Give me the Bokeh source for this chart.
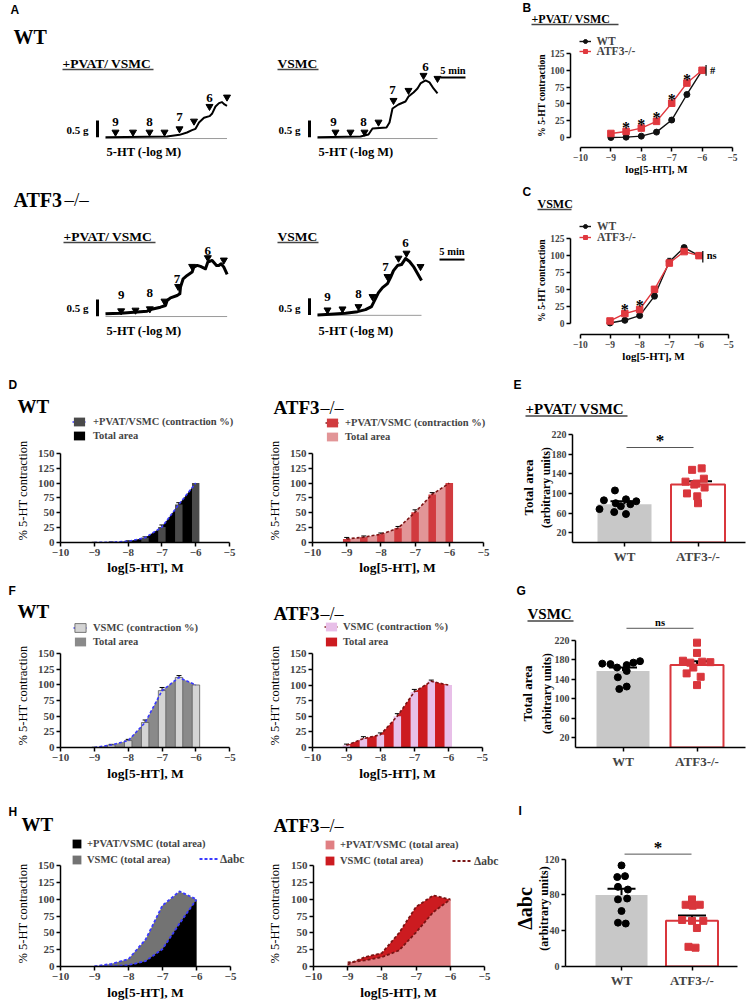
import math
from bokeh.plotting import figure
from bokeh.models import (Range1d, Legend, LegendItem, Whisker, TeeHead,
                          ColumnDataSource, FixedTicker, GridBox)
from bokeh.layouts import row, column
from bokeh.embed import file_html
from bokeh.resources import INLINE
from bokeh.core.properties import value

SERIF = "Liberation Serif"
SANS = "Liberation Sans"

# ---------------- dose-response data (% 5-HT contraction) ----------------
log_conc = [-9, -8.5, -8, -7.5, -7, -6.5, -6]
pvat_wt = [0, 0.5, 2, 8, 26, 64, 100]
pvat_wt_sem = [0.3, 0.3, 0.8, 1.5, 3.5, 3, 0]
pvat_ko = [6, 9, 14, 24, 51, 81, 100]
pvat_ko_sem = [2.5, 2, 2, 3, 4, 3, 0]
vsmc_wt = [0, 4, 11, 40, 91, 112, 100]
vsmc_wt_sem = [0.3, 1, 2, 4, 5, 3, 0]
vsmc_ko = [3, 14, 20, 50, 89, 106, 100]
vsmc_ko_sem = [2, 3, 3, 4, 4, 2, 0]
stars_b = [-8.5, -8, -7.5, -7, -6.5]
stars_c = [-8.5, -8]
x_ticks = [-10, -9, -8, -7, -6, -5]
y_ticks_pct = [0, 25, 50, 75, 100, 125, 150]
y_ticks_bc = [0, 25, 50, 75, 100, 125]

# ---------------- bar-chart data ----------------
groups = ["WT", "ATF3-/-"]
e_wt = [106, 88, 86, 84, 80, 78, 74, 68, 62, 58]
e_wt_jit = [-0.13, 0.02, -0.28, 0.16, -0.12, 0.08, -0.05, -0.34, -0.14, 0.02]
e_ko = [151, 148, 130, 124, 120, 118, 112, 100, 94, 80]
e_ko_jit = [0.05, -0.08, 0.08, -0.17, -0.02, -0.05, 0.09, -0.15, -0.01, 0.0]
e_mean = [78, 118]
e_sem = [6, 7]
g_wt = [177, 174, 172, 171, 169, 164, 157, 144, 125, 120]
g_wt_jit = [0.23, 0.14, -0.28, -0.17, 0.05, -0.08, 0.05, -0.07, 0.05, -0.05]
g_ko = [215, 194, 178, 176, 175, 174, 164, 152, 145, 128]
g_ko_jit = [0.0, 0.0, -0.19, 0.07, 0.18, -0.09, -0.05, -0.14, 0.05, 0.0]
g_mean = [157, 169]
g_sem = [7, 8]
i_wt = [113, 101, 100, 89, 86, 76, 75, 62, 49, 48]
i_wt_jit = [0.0, 0.05, -0.06, -0.05, 0.09, 0.08, -0.05, 0.0, -0.05, 0.06]
i_ko = [75, 69, 69, 68, 52, 51, 51, 43, 22, 21]
i_ko_jit = [0.0, -0.09, 0.11, 0.01, -0.14, 0.16, 0.0, 0.07, -0.05, 0.05]
i_mean = [80, 51]
i_sem = [7, 6]

# ---------------- panel A isometric traces (time min, tension g) ----------------
wt_pvat_t = [0, 12.3, 14.8, 16.3, 17.3, 18.0, 18.7, 19.7, 20.8, 21.3, 22.0, 22.7, 23.3, 23.8, 24.3]
wt_pvat_g = [0, 0.02, 0.07, 0.14, 0.21, 0.25, 0.44, 0.58, 0.63, 0.70, 0.92, 1.02, 1.05, 0.98, 0.94]
wt_pvat_arr_t = [2.0, 5.5, 8.8, 11.8, 14.8, 17.7, 20.8, 24.3]
wt_pvat_arr_g = [0.15, 0.15, 0.15, 0.15, 0.25, 0.48, 0.92, 1.2]
wt_pvat_dose_t = [2.0, 8.8, 14.8, 20.8]
wt_pvat_dose_g = [0.45, 0.45, 0.6, 1.17]

wt_vsmc_t = [0, 8.6, 10.2, 11.0, 13.8, 14.4, 15.0, 16.2, 17.6, 18.2, 19.2, 20.0, 20.6, 21.6, 22.4, 23.2, 24.0]
wt_vsmc_g = [0, 0.02, 0.08, 0.26, 0.29, 0.44, 0.86, 0.98, 1.07, 1.22, 1.34, 1.46, 1.61, 1.70, 1.64, 1.46, 1.31]
wt_vsmc_arr_t = [3.6, 6.6, 9.4, 12.2, 15.2, 18.2, 21.2, 24.0]
wt_vsmc_arr_g = [0.15, 0.15, 0.15, 0.45, 1.1, 1.4, 1.85, 1.76]
wt_vsmc_dose_t = [3.2, 9.2, 15.0, 21.6]
wt_vsmc_dose_g = [0.45, 0.45, 1.4, 2.1]

ko_pvat_t = [0, 3.0, 5.67, 8.33, 9.0, 11.0, 12.0, 12.33, 13.0, 14.33, 14.87, 15.0, 15.53, 16.33,
             17.33, 17.67, 18.33, 19.0, 20.0, 20.47, 21.33, 22.2, 22.67, 23.13, 23.67, 24.33]
ko_pvat_g = [0.07, 0.09, 0.12, 0.15, 0.20, 0.27, 0.32, 0.47, 0.55, 0.62, 0.67, 0.87, 1.12, 1.22,
             1.32, 1.47, 1.52, 1.49, 1.42, 1.62, 1.67, 1.52, 1.52, 1.57, 1.47, 1.25]
ko_pvat_arr_t = [3.13, 6.0, 8.87, 11.8, 14.53, 17.33, 20.47, 23.67]
ko_pvat_arr_g = [0.16, 0.18, 0.22, 0.45, 0.89, 1.49, 1.75, 1.68]
ko_pvat_dose_t = [3.13, 8.87, 14.3, 20.47]
ko_pvat_dose_g = [0.62, 0.69, 1.12, 1.95]

ko_vsmc_t = [0, 2.6, 5.6, 8.0, 9.6, 10.8, 11.4, 12.2, 13.0, 14.0, 14.6, 15.2, 16.0, 16.8, 17.6, 18.4, 19.2, 20.0, 20.8]
ko_vsmc_g = [0, 0.02, 0.05, 0.10, 0.16, 0.25, 0.43, 0.67, 0.82, 0.94, 1.12, 1.33, 1.48, 1.51, 1.69, 1.60, 1.45, 1.24, 1.03]
ko_vsmc_arr_t = [2.0, 5.0, 8.2, 11.0, 14.0, 16.2, 17.8, 20.6]
ko_vsmc_arr_g = [0.15, 0.18, 0.25, 0.55, 1.15, 1.7, 1.85, 1.45]
ko_vsmc_dose_t = [2.0, 8.2, 13.6, 17.6]
ko_vsmc_dose_g = [0.55, 0.62, 1.45, 2.15]
dose_labels = ["9", "8", "7", "6"]

# ---------------- colours ----------------
BLUE = "#3a3aff"
DKRED = "#7a1414"
RED = "#d9363c"
REDL = "#e0383e"

# =====================================================================
# text overlay (whole page) : titles, letters, axis titles
# =====================================================================
T = figure(width=747, height=1000, x_range=Range1d(0, 747), y_range=Range1d(1000, 0),
           x_axis_location=None, y_axis_location=None, min_border=0, title=None,
           toolbar_location=None, output_backend="svg",
           background_fill_color=None, border_fill_color=None)
T.grid.visible = False
T.outline_line_color = None

def lab(X, Y, text, size, style="bold", font=SERIF, align="left", angle=0.0):
    T.text(x=[X], y=[Y], text=[text], text_font=value(font), text_font_size=value(f"{size}px"),
           text_font_style=style, text_align=align, text_baseline="middle", angle=angle,
           text_color="black")

def uline(X1, X2, Y):
    T.segment(x0=[X1], y0=[Y], x1=[X2], y1=[Y], line_color="#444444", line_width=1.3)

# =====================================================================
# Panel A : one canvas, traces through their own (min, g) ranges
# =====================================================================
AW, AH = 515, 370
A = figure(width=AW, height=AH, x_range=Range1d(0, AW), y_range=Range1d(AH, 0),
           x_axis_location=None, y_axis_location=None, min_border=0, title=None,
           toolbar_location=None, output_backend="svg")
A.grid.visible = False
A.outline_line_color = None
PXM, PXG = 5.0, 33.4   # px per minute, px per gram

traces = [
    ("wp", 105, 136.7, wt_pvat_t, wt_pvat_g, wt_pvat_arr_t, wt_pvat_arr_g, wt_pvat_dose_t, wt_pvat_dose_g, 2.0, -0.04),
    ("wv", 317, 136.7, wt_vsmc_t, wt_vsmc_g, wt_vsmc_arr_t, wt_vsmc_arr_g, wt_vsmc_dose_t, wt_vsmc_dose_g, 2.0, -0.04),
    ("kp", 105, 315.7, ko_pvat_t, ko_pvat_g, ko_pvat_arr_t, ko_pvat_arr_g, ko_pvat_dose_t, ko_pvat_dose_g, 3.0, -0.01),
    ("kv", 317, 314.5, ko_vsmc_t, ko_vsmc_g, ko_vsmc_arr_t, ko_vsmc_arr_g, ko_vsmc_dose_t, ko_vsmc_dose_g, 3.0, -0.01),
]
exr, eyr = {}, {}
for key, ox, oy, *_ in traces:
    exr[key] = Range1d(-ox / PXM, (AW - ox) / PXM)
    eyr[key] = Range1d((oy - AH) / PXG, oy / PXG)
A.extra_x_ranges = exr
A.extra_y_ranges = eyr

for key, ox, oy, tt, gg, at, ag, dt, dg, lw, base in traces:
    kw = dict(x_range_name=key, y_range_name=key)
    A.line([0, tt[-1]], [base, base], line_color="#9a9a9a", line_width=1, **kw)
    A.line(tt, gg, line_color="black", line_width=lw, line_join="round", **kw)
    A.scatter(at, ag, marker="inverted_triangle", size=7, color="black", **kw)
    A.text(x=dt, y=dg, text=dose_labels, text_font=value(SERIF), text_font_size=value("13px"),
           text_font_style="bold", text_align="center", text_baseline="middle", **kw)
    A.segment(x0=[-1.6], y0=[0], x1=[-1.6], y1=[0.5], line_width=3, line_color="black", **kw)

A.segment(x0=[24.6], y0=[1.79], x1=[29.6], y1=[1.79], line_width=2, line_color="black",
          x_range_name="wv", y_range_name="wv")
A.text(x=[27.1], y=[2.0], text=["5 min"], text_font=value(SERIF), text_font_size=value("10.5px"),
       text_font_style="bold", text_align="center", text_baseline="middle",
       x_range_name="wv", y_range_name="wv")
A.segment(x0=[24.4], y0=[1.66], x1=[29.4], y1=[1.66], line_width=2, line_color="black",
          x_range_name="kv", y_range_name="kv")
A.text(x=[26.9], y=[1.9], text=["5 min"], text_font=value(SERIF), text_font_size=value("10.5px"),
       text_font_style="bold", text_align="center", text_baseline="middle",
       x_range_name="kv", y_range_name="kv")

lab(10, 9, "A", 12, font=SANS)
lab(13, 36, "WT", 20)
lab(13, 199, "ATF3", 20)
lab(64, 199, "\u2013/\u2013", 19, style="normal")
for (x, y, s, ul) in [(62, 63, "+PVAT/ VSMC", 91), (277, 63, "VSMC", 41),
                      (63, 236, "+PVAT/ VSMC", 92), (277, 236, "VSMC", 41)]:
    lab(x, y, s, 13.5)
    uline(x, x + ul, y + 6)
for (x, y) in [(88, 129), (300, 129), (88, 307), (300, 307)]:
    lab(x, y, "0.5 g", 11, align="right")
for (x, y) in [(106, 151), (318, 151), (106, 330), (318, 330)]:
    lab(x, y, "5-HT (-log M)", 12.5)

# =====================================================================
# helpers for charts
# =====================================================================
def make_panel(x0, y0, w, h, fl, ft, fr, fb, xcal, ycal):
    a, pa, b, pb = xcal
    kx = (pb - pa) / (b - a)
    xs, xe = a - (pa - fl) / kx, a + (fr - pa) / kx
    a2, pa2, b2, pb2 = ycal
    ky = (pa2 - pb2) / (b2 - a2)
    ys, ye = a2 - (fb - pa2) / ky, a2 + (pa2 - ft) / ky
    p = figure(width=w, height=h, x_range=Range1d(xs, xe), y_range=Range1d(ys, ye),
               min_border_left=fl - x0, min_border_right=x0 + w - fr,
               min_border_top=ft - y0, min_border_bottom=y0 + h - fb,
               title=None, toolbar_location=None, output_backend="svg")
    p.grid.visible = False
    p.outline_line_color = None
    return dict(p=p, fl=fl, fb=fb)

def style_axes(p, xticks, yticks, xb, yb, fs="11px", xfs=None):
    p.xaxis.ticker = FixedTicker(ticks=xticks)
    p.yaxis.ticker = FixedTicker(ticks=yticks)
    if xb is not None:
        p.xaxis.bounds = xb
    p.yaxis.bounds = yb
    for ax in list(p.xaxis) + list(p.yaxis):
        ax.axis_line_width = 1.5
        ax.major_tick_line_width = 1.5
        ax.major_tick_out = 4
        ax.major_tick_in = 0
        ax.minor_tick_line_color = None
        ax.major_label_text_font = SERIF
        ax.major_label_text_font_style = "bold"
        ax.major_label_text_font_size = fs
        ax.major_label_standoff = 2
    if xfs:
        p.xaxis.major_label_text_font_size = xfs

def leg(P, renderers, label, gx, gy, gw, gh, lx, fs="10.5px"):
    L = Legend(items=[LegendItem(label=label, renderers=renderers)],
               location=(gx - P["fl"], P["fb"] - gy - gh / 2.0), orientation="vertical",
               padding=0, margin=0, spacing=0, glyph_width=gw, glyph_height=gh,
               label_height=gh, label_standoff=int(round(lx - gx - gw)),
               label_text_font=SERIF, label_text_font_style="bold", label_text_font_size=fs,
               border_line_color=None, background_fill_alpha=0)
    P["p"].add_layout(L)

def whisk(p, xs, ys, es, width=1.0, head=5, color="black"):
    keep = [i for i in range(len(xs)) if es[i] > 0]
    src = ColumnDataSource(dict(x=[xs[i] for i in keep],
                                lo=[ys[i] - es[i] for i in keep],
                                hi=[ys[i] + es[i] for i in keep]))
    p.add_layout(Whisker(source=src, base="x", lower="lo", upper="hi", line_color=color,
                         line_width=width,
                         upper_head=TeeHead(size=head, line_width=width, line_color=color),
                         lower_head=TeeHead(size=head, line_width=width, line_color=color)))

# =====================================================================
# B and C : dose-response curves
# =====================================================================
def dose_panel(P, wt, wts, ko, kos, stars, sig, sig_x, sig_lo, sig_hi, legy, glx, lblx, letter, ttl, ttl_xy, ul_w, ylab_y, xlab_xy):
    p = P["p"]
    lw_ = p.line(log_conc, wt, line_color="#111111", line_width=1.4)
    sw_ = p.scatter(log_conc, wt, marker="circle", size=6, color="#111111")
    lk_ = p.line(log_conc, ko, line_color=REDL, line_width=1.4)
    sk_ = p.scatter(log_conc, ko, marker="square", size=6.5, color=REDL)
    whisk(p, log_conc, wt, wts, head=4, color="#111111")
    whisk(p, log_conc, ko, kos, head=4, color=REDL)
    sy = [ko[log_conc.index(s)] + 5.5 for s in stars]
    p.text(x=stars, y=sy, text=["*"] * len(stars), text_font=value(SERIF),
           text_font_size=value("16px"), text_font_style="bold", text_align="center",
           text_baseline="middle")
    p.segment(x0=[sig_x], y0=[sig_lo], x1=[sig_x], y1=[sig_hi], line_color="black", line_width=1.2)
    p.text(x=[sig_x + 0.13], y=[100], text=[sig], text_font=value(SERIF),
           text_font_size=value("10.5px"), text_font_style="bold", text_align="left",
           text_baseline="middle")
    style_axes(p, x_ticks, y_ticks_bc, (-10, -5), (0, 125), fs="9.5px")
    leg(P, [lw_, sw_], "WT", glx, legy[0], 12, 10, lblx, fs="11.5px")
    leg(P, [lk_, sk_], "ATF3-/-", glx, legy[1], 12, 10, lblx, fs="11.5px")
    lab(522, letter[1], letter[0], 12, font=SANS)
    lab(ttl_xy[0], ttl_xy[1], ttl, 12)
    uline(ttl_xy[0], ttl_xy[0] + ul_w, ttl_xy[1] + 6)
    lab(541, ylab_y, "% 5-HT contraction", 9.5, align="center", angle=math.pi / 2)
    lab(xlab_xy[0], xlab_xy[1], "log[5-HT], M", 11, align="center")

B = make_panel(515, 0, 232, 180, 570, 12, 737, 147, (-10, 580, -5, 732), (0, 137, 125, 53))
dose_panel(B, pvat_wt, pvat_wt_sem, pvat_ko, pvat_ko_sem, stars_b, "#", -5.87, 92, 108,
           (42, 52), 578.5, 596, ("B", 7), "+PVAT/ VSMC", (531, 18), 87, 95, (656, 168))
C = make_panel(515, 180, 232, 190, 568, 192, 737, 334, (-10, 578, -5, 728), (0, 322.5, 125, 238.3))
dose_panel(C, vsmc_wt, vsmc_wt_sem, vsmc_ko, vsmc_ko_sem, stars_c, "ns", -5.87, 90, 107,
           (227, 238), 577, 595, ("C", 191), "VSMC", (537, 203), 34, 280, (653, 355))

# =====================================================================
# D / F : contraction bars with total area
# =====================================================================
def title_wt_ko(x, y, is_ko):
    if is_ko:
        lab(x, y, "ATF3", 19)
        lab(x + 47, y, "\u2013/\u2013", 18, style="normal")
    else:
        lab(x, y, "WT", 19)

def area_bar_panel(P, vals, sems, bar_fill, area_fill, dash, bar_line, leg1, leg2, lg, title_x, title_y, letter, ylab_x, ylab_y, xlab_x, xlab_y, is_ko):
    p = P["p"]
    ra = p.varea(x=log_conc, y1=[0] * len(vals), y2=vals, fill_color=area_fill)
    rb = p.vbar(x=log_conc, top=vals, width=0.22, fill_color=bar_fill,
                line_color=bar_line, line_width=0.8 if bar_line else 0)
    rl = p.line(log_conc, vals, line_color=dash, line_width=1.6, line_dash="3 2")
    whisk(p, log_conc, vals, sems, head=5)
    style_axes(p, x_ticks, y_ticks_pct, (-10, -5), (0, 150))
    gx, gy1, gy2, lx = lg
    leg(P, [rl, rb], leg1, gx, gy1, 14, 11, lx)
    leg(P, [ra], leg2, gx, gy2, 14, 11, lx)
    if letter:
        lab(8, letter[1], letter[0], 12, font=SANS)
    title_wt_ko(title_x, title_y, is_ko)
    lab(ylab_x, ylab_y, "% 5-HT contraction", 12.5, style="normal", align="center", angle=math.pi / 2)
    lab(xlab_x, xlab_y, "log[5-HT], M", 13.5, align="center")

Dw = make_panel(0, 370, 262, 208, 60, 376, 258, 542, (-10, 60, -5, 229), (0, 542, 150, 439.3))
area_bar_panel(Dw, pvat_wt, pvat_wt_sem, "#4a4a4a", "#000000", BLUE, None,
               "+PVAT/VSMC (contraction %)", "Total area", (72, 421, 435, 93),
               17, 406, ("D", 384), 22, 490, 145, 567, False)
Dk = make_panel(262, 370, 243, 208, 312, 376, 503, 542, (-10, 312, -5, 483), (0, 542, 150, 439.3))
area_bar_panel(Dk, pvat_ko, pvat_ko_sem, "#d13b3f", "#e29597", DKRED, None,
               "+PVAT/VSMC (contraction %)", "Total area", (325, 422, 436, 345),
               273, 407, None, 274, 490, 397, 567, True)

Fw = make_panel(0, 578, 262, 210, 60, 584, 258, 747, (-10, 60, -5, 229.3), (0, 747, 150, 643))
area_bar_panel(Fw, vsmc_wt, vsmc_wt_sem, "#d4d4d4", "#8a8a8a", BLUE, "#5a5a5a",
               "VSMC (contraction %)", "Total area", (73, 627, 641, 93),
               17, 611, ("F", 590), 22, 695, 145, 773, False)
Fk = make_panel(262, 578, 243, 210, 312, 584, 503, 747, (-10, 312, -5, 481.7), (0, 746.7, 150, 643.3))
area_bar_panel(Fk, vsmc_ko, vsmc_ko_sem, "#e8bfe8", "#cc1b20", DKRED, None,
               "VSMC (contraction %)", "Total area", (324, 626, 641, 343),
               273, 613, None, 274, 695, 397, 773, True)

# =====================================================================
# H : total areas and delta area
# =====================================================================
def delta_panel(P, pvat, vsmc, pvat_fill, vsmc_fill, dash, lg, dl, title_x, title_y, letter, ylab_x, xlab_x, is_ko):
    p = P["p"]
    rv = p.varea(x=log_conc, y1=[0] * len(vsmc), y2=vsmc, fill_color=vsmc_fill)
    rp = p.varea(x=log_conc, y1=[0] * len(pvat), y2=pvat, fill_color=pvat_fill)
    rl = p.line(log_conc, vsmc, line_color=dash, line_width=1.8, line_dash="3 2")
    p.line(log_conc, pvat, line_color=dash, line_width=1.8, line_dash="3 2")
    style_axes(p, x_ticks, y_ticks_pct, (-10, -5), (0, 150))
    gx, gy1, gy2, lx = lg
    leg(P, [rp], "+PVAT/VSMC (total area)", gx, gy1, 11, 11, lx)
    leg(P, [rv], "VSMC (total area)", gx, gy2, 11, 11, lx)
    leg(P, [rl], "\u0394abc", dl[0], dl[1], dl[2], 11, dl[3], fs="11.5px")
    if letter:
        lab(8, letter[1], letter[0], 12, font=SANS)
    title_wt_ko(title_x, title_y, is_ko)
    lab(ylab_x, 913, "% 5-HT contraction", 12.5, style="normal", align="center", angle=math.pi / 2)
    lab(xlab_x, 992, "log[5-HT], M", 13.5, align="center")

Hw = make_panel(0, 788, 262, 212, 60, 794, 258, 966, (-10, 60, -5, 230), (0, 966, 150, 863))
delta_panel(Hw, pvat_wt, vsmc_wt, "#000000", "#737373", BLUE, (71, 843, 859, 87),
            (199, 859, 19, 220), 21, 824, ("H", 811), 22, 145, False)
Hk = make_panel(262, 788, 243, 212, 313, 794, 503, 966, (-10, 313, -5, 484), (0, 966, 150, 863))
delta_panel(Hk, pvat_ko, vsmc_ko, "#e07f83", "#cc1b20", DKRED, (324, 844, 860, 340),
            (452, 861, 20, 474), 273, 825, None, 274, 398, True)

# =====================================================================
# E / G / I : scatter-bar charts
# =====================================================================
def bar_panel(P, wt, wtj, ko, koj, mean, sem, bw, yticks, ymax, sig, sig_x, sig_y, letter, ylab1, ylab_xy, ttl=None):
    p = P["p"]
    xs = [1, 2]
    p.vbar(x=[xs[0]], top=[mean[0]], width=bw, fill_color="#c8c8c8", line_color=None)
    p.vbar(x=[xs[1]], top=[mean[1]], width=bw, fill_color="white", line_color=RED, line_width=2)
    p.scatter([xs[0] + j for j in wtj], wt, marker="circle", size=7, color="black")
    p.scatter([xs[1] + j for j in koj], ko, marker="square", size=7, color=RED)
    whisk(p, xs, mean, sem, width=2, head=28)
    p.line([sig_x[0], sig_x[1]], [sig_y, sig_y], line_color="#555555", line_width=1)
    p.text(x=[(sig_x[0] + sig_x[1]) / 2], y=[sig_y + (14 if sig == "*" else 12) * (ymax / 220.0)],
           text=[sig], text_font=value(SERIF),
           text_font_size=value("17px" if sig == "*" else "10.5px"), text_font_style="bold",
           text_align="center", text_baseline="middle")
    style_axes(p, xs, yticks, None, (0, ymax), fs="10px", xfs="13px")
    p.xaxis.major_label_overrides = {1: groups[0], 2: groups[1]}
    lab(letter[1], letter[2], letter[0], 12, font=SANS)
    if ttl:
        lab(ttl[0], ttl[1], ttl[2], 15)
        uline(ttl[0], ttl[0] + ttl[3], ttl[1] + 7.5)
    lab(ylab_xy[0], ylab_xy[2], ylab1[0], ylab1[1], style=ylab1[2], align="center", angle=math.pi / 2)
    lab(ylab_xy[1], ylab_xy[2], "(arbitrary units)", ylab1[3], align="center", angle=math.pi / 2)

E = make_panel(505, 370, 242, 208, 572, 398, 745, 542, (1, 624, 2, 697.5), (0, 542, 220, 434))
bar_panel(E, e_wt, e_wt_jit, e_ko, e_ko_jit, e_mean, e_sem, 0.735, [20, 60, 100, 140, 180, 220], 220,
          "*", (1.027, 1.939), 193.5, ("E", 513, 384), ("Total area", 13, "bold", 11.5), (528, 545, 487),
          ttl=(525, 408, "+PVAT/ VSMC", 102))
G = make_panel(505, 578, 242, 210, 575, 600, 745, 748, (1, 622.5, 2, 696.5), (0, 748, 220, 640))
bar_panel(G, g_wt, g_wt_jit, g_ko, g_ko_jit, g_mean, g_sem, 0.716, [20, 60, 100, 140, 180, 220], 220,
          "ns", (1.047, 1.953), 244.5, ("G", 516, 590), ("Total area", 13, "bold", 11.5), (527, 546, 693),
          ttl=(527, 613, "VSMC", 46))
I = make_panel(505, 788, 242, 212, 565, 798, 737, 967, (1, 621, 2, 691.5), (0, 967, 120, 859))
bar_panel(I, i_wt, i_wt_jit, i_ko, i_ko_jit, i_mean, i_sem, 0.7376, [0, 40, 80, 120], 120,
          "*", (1.043, 1.993), 125.6, ("I", 518, 810), ("\u0394abc", 20, "bold", 12), (524, 543, 908))

charts = column(
    row(A, column(B["p"], C["p"])),
    row(Dw["p"], Dk["p"], E["p"]),
    row(Fw["p"], Fk["p"], G["p"]),
    row(Hw["p"], Hk["p"], I["p"]),
)
page = GridBox(children=[(charts, 0, 0), (T, 0, 0)])
open("out.html", "w").write(file_html(page, INLINE))
